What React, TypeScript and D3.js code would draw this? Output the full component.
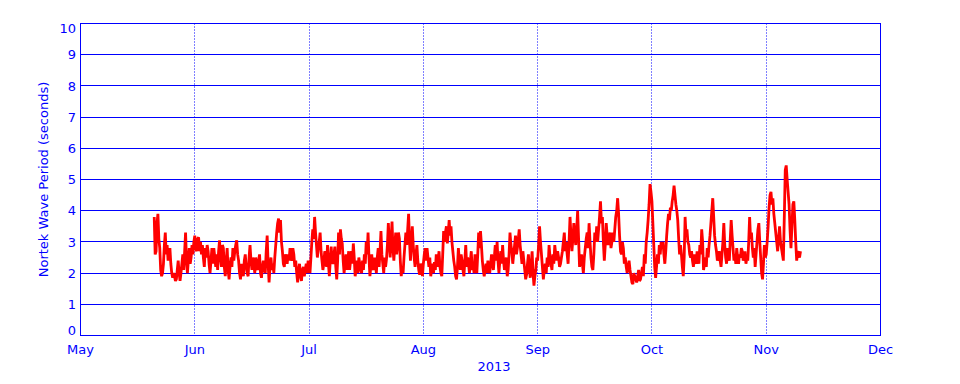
import React from "react";
import * as d3 from "d3";

const monthLabels = ["May", "Jun", "Jul", "Aug", "Sep", "Oct", "Nov", "Dec"];
const monthStarts = monthLabels.map((_, i) => new Date(2013, 4 + i, 1));
const yTicks = [0, 1, 2, 3, 4, 5, 6, 7, 8, 9, 10];
const yearLabel = "2013";
const yLabel = "Nortek Wave Period (seconds)";

// series: wave period (s), sampled every 6 hours starting 2013-05-21 00:00
const seriesStart = new Date(2013, 4, 21, 0);
const stepHours = 6;
const periodSeconds = [
  // late May – mid June
  3.8, 2.6, 2.7, 3.6, 3.9, 3.1, 2.8, 2.1, 1.9, 2.0, 2.3, 2.9, 3.3, 2.6, 2.9, 2.4, 2.6, 2.8, 2.3, 2.0,
  1.85, 2.0, 1.9, 1.75, 1.8, 2.1, 2.4, 2.0, 1.75, 2.0, 2.3, 2.6, 2.1, 2.7, 3.3, 2.4, 2.0, 2.4, 2.8, 2.3,
  2.5, 2.9, 2.6, 3.0, 3.2, 2.8, 2.7, 3.1, 3.15, 2.7, 3.0, 2.6, 2.9, 2.5, 2.2, 2.8, 2.5, 2.9, 2.7, 2.3,
  2.0, 2.4, 2.8, 2.3, 2.8, 2.5, 2.2, 2.6, 2.1, 2.7, 3.05, 2.5, 2.2, 2.9, 2.8, 2.2, 1.9, 2.4, 2.8, 2.1,
  1.8, 2.2, 2.5, 2.2, 2.8, 2.4, 2.7, 2.9, 3.05, 2.6, 2.4, 2.0, 1.8, 2.3, 2.1, 1.9, 2.4, 2.6, 2.2, 2.0,
  1.9, 2.5, 2.9, 2.4, 2.1, 2.5, 2.3, 2.0, 2.5, 2.2, 2.1, 2.4, 2.6, 2.0, 1.85, 2.2, 2.4, 2.1, 2.0, 2.7,
  3.2, 2.3, 1.7, 2.2, 2.5, 2.1,
  // late June – mid July
  2.3, 2.0, 2.5, 2.9, 3.3, 3.6, 3.75, 3.3, 3.7, 3.0, 2.7, 2.3, 2.2, 2.6, 2.5, 2.3, 2.6, 2.4, 2.8, 2.5,
  2.4, 2.8, 2.6, 2.2, 2.4, 2.0, 1.7, 2.1, 2.3, 1.9, 1.75, 2.1, 2.2, 1.9, 2.1, 2.3, 2.0, 2.4, 2.2, 2.0,
  2.5, 3.0, 3.4, 3.1, 3.8, 3.3, 2.9, 2.5, 2.8, 3.0, 3.3, 2.7, 2.4, 2.1, 2.3, 2.7, 2.6, 2.2, 2.9, 2.3,
  1.9, 2.4, 2.85, 2.4, 2.3, 2.6, 2.85, 2.2, 1.8, 2.4, 3.3, 2.6, 3.4, 3.1, 2.95, 2.4, 2.0, 2.3, 2.6, 2.1,
  2.4, 2.7, 2.1, 2.4, 2.7, 2.3, 2.95, 2.5, 1.9, 2.1, 2.4, 2.0, 2.5, 2.3, 2.1, 2.0, 2.4, 2.1, 2.6, 2.3,
  3.0, 2.6, 3.3, 2.5, 1.9, 2.2, 2.6, 2.2, 2.1, 2.5, 2.3, 2.0, 2.5, 2.8, 2.2, 2.7, 3.35, 2.6, 2.3, 2.0,
  2.5, 2.2, 2.45, 2.9,
  // late July – mid August
  3.6, 3.0, 2.5, 3.1, 3.65, 2.8, 2.4, 2.9, 3.3, 2.6, 2.9, 3.3, 3.1, 2.4, 1.9, 2.2, 2.0, 2.5, 2.9, 3.3,
  2.9, 3.4, 3.9, 3.0, 2.4, 3.0, 3.5, 2.9, 2.5, 2.2, 2.6, 2.9, 2.4, 2.1, 1.95, 2.3, 2.2, 1.9, 2.3, 2.6,
  2.8, 2.4, 2.8, 2.5, 2.2, 2.5, 1.9, 2.1, 2.3, 2.0, 2.35, 2.1, 2.6, 2.2, 2.4, 2.7, 2.2, 2.0, 1.9, 2.6,
  3.35, 3.0, 3.3, 3.5, 2.95, 3.3, 3.7, 3.2, 3.5, 3.0, 2.7, 2.4, 2.2, 1.9, 1.8, 2.2, 2.8, 2.4, 2.1, 2.6,
  2.4, 2.1, 1.9, 2.4, 2.9, 2.2, 2.5, 2.3, 2.0, 2.4, 2.7, 2.1, 2.3, 2.0, 2.6, 2.3, 2.0, 2.6, 3.3, 2.8,
  3.35, 2.9, 2.4, 2.1, 1.9, 2.1, 2.3, 2.0, 2.4, 2.1, 2.0, 2.3, 2.6, 2.3, 2.1, 2.5, 2.9, 2.4, 3.0, 2.4,
  2.0, 2.4,
  // late August – late September
  2.7, 2.3, 2.9, 2.4, 2.1, 2.3, 2.5, 1.9, 2.1, 2.6, 3.3, 2.9, 2.7, 2.3, 2.6, 2.9, 3.2, 2.6, 2.8, 3.1,
  3.4, 2.9, 2.6, 2.3, 2.7, 2.4, 2.1, 1.8, 1.95, 2.3, 2.6, 2.1, 1.85, 2.3, 2.7, 2.0, 1.6, 1.9, 2.1, 2.5,
  2.4, 2.9, 3.5, 3.0, 2.6, 2.2, 1.8, 2.1, 2.3, 2.0, 2.5, 2.2, 2.9, 2.5, 2.3, 2.1, 2.6, 2.3, 2.9, 2.6,
  2.4, 2.7, 2.5, 2.2, 2.3, 2.5, 2.7, 3.0, 3.3, 2.7, 3.0, 2.6, 2.3, 3.0, 3.8, 3.2, 2.7, 3.1, 3.6, 3.2,
  2.9, 3.4, 4.0, 3.1, 2.2, 2.4, 2.6, 2.3, 2.0, 2.5, 2.8, 3.1, 3.3, 2.8, 3.6, 3.0, 2.5, 2.2, 2.1, 2.6,
  3.3, 3.0, 3.5, 3.0, 3.4, 3.8, 4.3, 3.6, 3.8, 3.0, 2.4, 2.9, 3.6, 3.2, 2.9, 3.1, 3.3, 2.8, 3.0, 3.3,
  3.0, 3.4, 3.8, 4.0,
  // late September – late October
  4.4, 3.9, 3.2, 2.7, 2.6, 3.0, 2.8, 2.3, 2.5, 2.2, 2.0, 2.2, 2.4, 2.1, 1.9, 1.7, 1.65, 2.0, 1.9, 1.8,
  1.7, 1.9, 2.1, 1.75, 1.8, 2.0, 2.2, 1.9, 2.6, 2.3, 3.0, 3.3, 3.7, 4.2, 4.85, 4.6, 4.3, 3.6, 2.9, 2.2,
  1.85, 2.2, 2.6, 2.3, 2.9, 2.6, 3.0, 2.8, 3.0, 2.6, 2.3, 2.7, 3.2, 3.6, 3.9, 3.7, 4.1, 4.0, 4.3, 4.5,
  4.8, 4.5, 4.2, 4.0, 3.7, 3.1, 2.6, 2.9, 2.6, 2.2, 1.9, 2.5, 3.8, 3.2, 3.4, 3.0, 2.9, 2.6, 2.5, 2.7,
  2.4, 2.2, 2.6, 2.4, 2.3, 2.7, 2.5, 2.3, 2.9, 2.6, 3.4, 3.0, 2.1, 2.3, 2.5, 2.2, 2.8, 2.5, 2.9, 3.2,
  3.6, 4.0, 4.4, 3.8, 3.2, 2.9, 2.7, 2.4, 2.5, 2.7, 2.4, 2.2,
  // late October – November
  2.6, 3.0, 3.6, 2.9, 2.5, 2.3, 2.8, 2.5, 2.4, 3.1, 3.7, 3.2, 2.8, 2.4, 2.6, 2.3, 2.8, 2.5, 2.3, 2.6,
  2.5, 2.8, 2.7, 2.4, 2.5, 2.7, 2.3, 2.5, 2.4, 3.0, 3.8, 3.1, 3.3, 2.8, 2.5, 2.8, 2.2, 2.6, 3.0, 3.4,
  3.6, 3.0, 2.5, 2.0, 1.8, 2.3, 2.9, 2.5, 2.6, 3.0, 3.5, 4.1, 4.5, 4.6, 4.2, 4.4, 3.9, 3.6, 3.3, 3.0,
  2.7, 3.1, 3.5, 3.0, 2.8, 2.6, 2.4, 3.8, 5.3, 5.45, 5.0, 4.6, 4.2, 3.4, 2.8, 3.5, 4.2, 4.3, 3.7, 3.0,
  2.4, 2.7, 2.6, 2.5, 2.7,
];

const BLUE = "#0000ff";
const RED = "#ff0000";
const FONT = "'DejaVu Sans', sans-serif";

const left = 80.5;
const right = 880.5;
const top = 23.5;
const bottom = 335.5;

export default function App() {
  const x = d3
    .scaleTime()
    .domain(monthStarts)
    .range(monthStarts.map((_, i) => left + (i * (right - left)) / (monthStarts.length - 1)));
  const y = d3.scaleLinear().domain([0, 10]).range([bottom, top]);

  const data = periodSeconds.map((v, i) => ({
    t: d3.timeHour.offset(seriesStart, i * stepHours),
    v,
  }));
  const line = d3
    .line<{ t: Date; v: number }>()
    .x((d) => x(d.t))
    .y((d) => y(d.v));

  const crisp = (p: number) => Math.round(p - 0.5) + 0.5;

  return (
    <svg width={960} height={384} style={{ display: "block", position: "absolute", left: 0, top: 0, background: "#fff" }}>
      <rect x={0} y={0} width={960} height={384} fill="#fff" />
      {yTicks.map((t) => (
        <line key={"h" + t} x1={left} x2={right} y1={crisp(y(t))} y2={crisp(y(t))} stroke={BLUE} strokeWidth={1} />
      ))}
      {monthStarts.slice(1, -1).map((d, i) => (
        <line
          key={"v" + i}
          x1={crisp(x(d))}
          x2={crisp(x(d))}
          y1={top}
          y2={bottom}
          stroke={BLUE}
          strokeWidth={1}
          strokeDasharray="1,2"
        />
      ))}
      <path d={line(data) || ""} fill="none" stroke={RED} strokeWidth={2.8} strokeLinejoin="bevel" />
      <rect x={left} y={top} width={right - left} height={bottom - top} fill="none" stroke={BLUE} strokeWidth={1} />
      {yTicks.map((t) => {
        const gy = y(t);
        const base = t === 0 ? bottom - 0.5 : t === 10 ? top + 9 : gy + 4.7;
        return (
          <text key={"yl" + t} x={76} y={base} fill={BLUE} fontFamily={FONT} fontSize={13} textAnchor="end">
            {t}
          </text>
        );
      })}
      {monthStarts.map((d, i) => (
        <text key={"xl" + i} x={x(d)} y={354} fill={BLUE} fontFamily={FONT} fontSize={13} textAnchor="middle">
          {monthLabels[i]}
        </text>
      ))}
      <text x={494} y={371} fill={BLUE} fontFamily={FONT} fontSize={13} textAnchor="middle">
        {yearLabel}
      </text>
      <text
        transform={`translate(48, ${(top + bottom) / 2}) rotate(-90)`}
        fill={BLUE}
        fontFamily={FONT}
        fontSize={13}
        textAnchor="middle"
      >
        {yLabel}
      </text>
    </svg>
  );
}
